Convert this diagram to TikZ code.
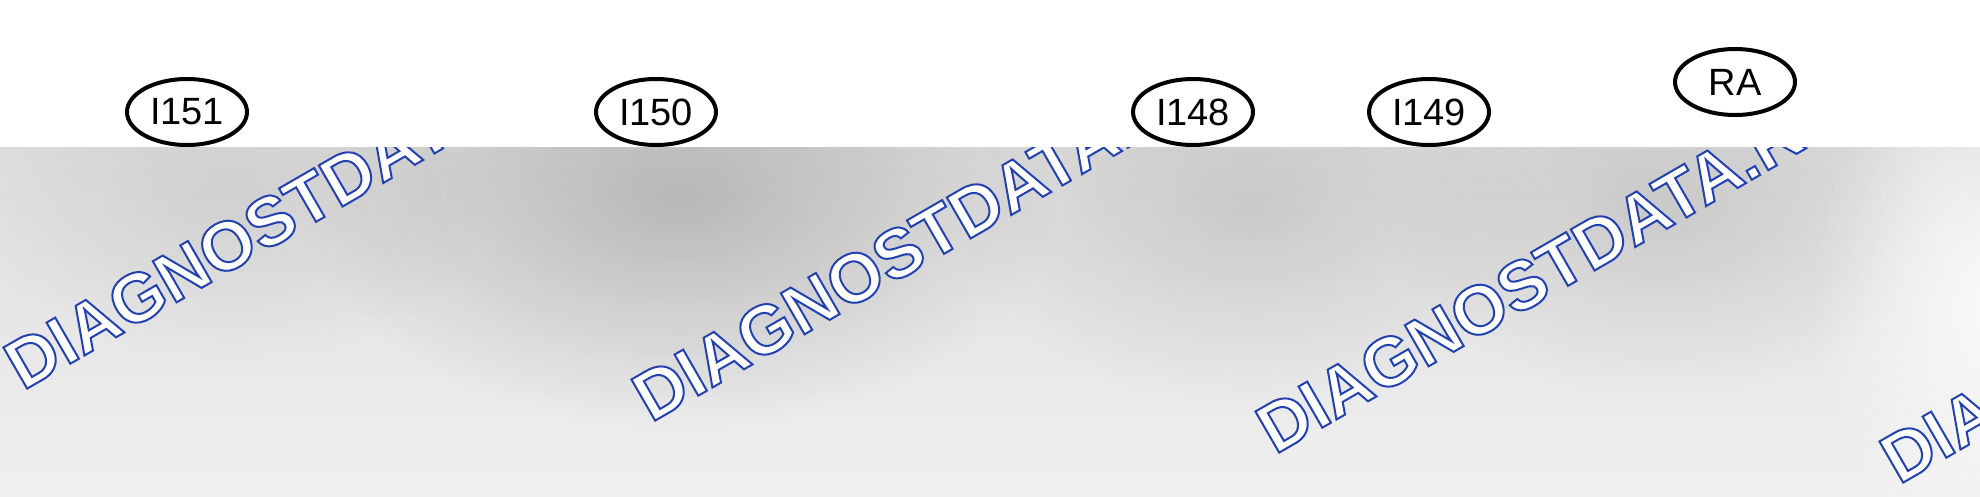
\documentclass[tikz,border=0pt]{standalone}
\usepackage{fontspec}
\setmainfont{Liberation Sans}
\usetikzlibrary{shapes.geometric,fadings}
\definecolor{wmblue}{RGB}{35,65,175}
\newcommand\wmoutline[1]{\special{pdf:literal direct 0.137 0.255 0.686 RG 2 w 2 Tr}#1\special{pdf:literal direct 0 Tr}}
\tikzfading[name=blobfade,inner color=transparent!0,outer color=transparent!100]

\begin{document}
\begin{tikzpicture}[x=1pt,y=-1pt,
		pin/.style={ellipse,draw,line width=4pt,fill=white,minimum width=120pt,minimum height=66pt,inner sep=0pt,font=\fontsize{38}{40}\selectfont},
		wmtext/.style={rotate=30,anchor=base west,inner sep=0pt,text=white,font=\fontsize{69}{70}\selectfont\bfseries},
		blob/.style={path fading=blobfade}]
		\useasboundingbox (0,0) rectangle (1980,496);
		\shade[top color=black!13,bottom color=black!6] (0,147) rectangle (1980,496);
		\begin{scope}
			\clip (0,147) rectangle (1980,496);
			\fill[blob,black,opacity=.18] (680,200) ellipse [x radius=380,y radius=230];
			\fill[blob,black,opacity=.10] (1250,210) ellipse [x radius=300,y radius=200];
			\fill[blob,black,opacity=.10] (1660,210) ellipse [x radius=280,y radius=190];
			\fill[blob,black,opacity=.07] (230,200) ellipse [x radius=260,y radius=170];
			\fill[blob,white,opacity=.8] (1990,300) ellipse [x radius=180,y radius=260];
			\foreach \x/\y [count=\i] in {23/391,651/423,1275/455,1899/485}
				\node[wmtext] (wm\i) at (\x,\y) {\wmoutline{DIAGNOSTDATA.RU}};
		\end{scope}
		\fill[white] (0,0) rectangle (1980,147);
		\node[pin] (i151) at (187,112) {I151};
		\node[pin] (i150) at (656,112) {I150};
		\node[pin] (i148) at (1193,112) {I148};
		\node[pin] (i149) at (1429,112) {I149};
		\node[pin] (ra) at (1735,82) {RA};
	\end{tikzpicture}
\end{document}
